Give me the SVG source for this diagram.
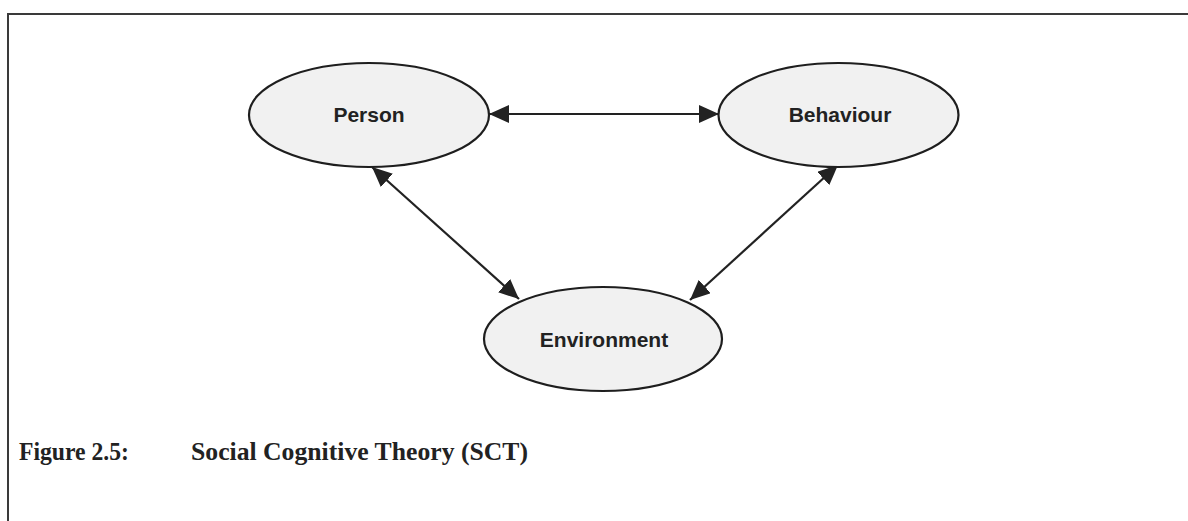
<svg xmlns="http://www.w3.org/2000/svg" width="1188" height="521" viewBox="0 0 1188 521">
  <style>
    .frame { fill: none; stroke: #3a3a3a; stroke-width: 2; }
    .node ellipse { fill: #f1f1f1; stroke: #1e1e1e; stroke-width: 2.2; }
    .node text { font-family: "Liberation Sans", Arial, sans-serif; font-weight: bold; font-size: 21px; fill: #222; text-anchor: middle; }
    .link { fill: none; stroke: #222; stroke-width: 2.2; marker-start: url(#head); marker-end: url(#head); }
    .caption { font-family: "Liberation Serif", "Times New Roman", serif; font-weight: bold; font-size: 25.5px; fill: #222; }
  </style>
  <defs>
    <marker id="head" viewBox="0 0 20 18" refX="20" refY="9" markerWidth="20" markerHeight="18" markerUnits="userSpaceOnUse" orient="auto-start-reverse">
      <path d="M0,0 L20,9 L0,18 Z" fill="#222"/>
    </marker>
  </defs>
  <rect width="1188" height="521" fill="#ffffff"/>

  <!-- page frame: top and left rules -->
  <path class="frame" d="M8,521 L8,14 L1188,14"/>

  <g id="connectors">
    <line class="link" x1="489" y1="114" x2="719" y2="114"/>
    <line class="link" x1="372" y1="167" x2="519" y2="299"/>
    <line class="link" x1="838" y1="165" x2="690" y2="300"/>
  </g>

  <g id="person" class="node">
    <ellipse cx="369" cy="115" rx="120" ry="52"/>
    <text x="369" y="122">Person</text>
  </g>
  <g id="behaviour" class="node">
    <ellipse cx="838.5" cy="115" rx="120" ry="52"/>
    <text x="840" y="122">Behaviour</text>
  </g>
  <g id="environment" class="node">
    <ellipse cx="603" cy="339" rx="119" ry="52"/>
    <text x="604" y="347">Environment</text>
  </g>

  <text class="caption" x="19" y="460" textLength="110" lengthAdjust="spacingAndGlyphs">Figure 2.5:</text>
  <text class="caption" x="191" y="460" textLength="337" lengthAdjust="spacingAndGlyphs">Social Cognitive Theory (SCT)</text>
</svg>
